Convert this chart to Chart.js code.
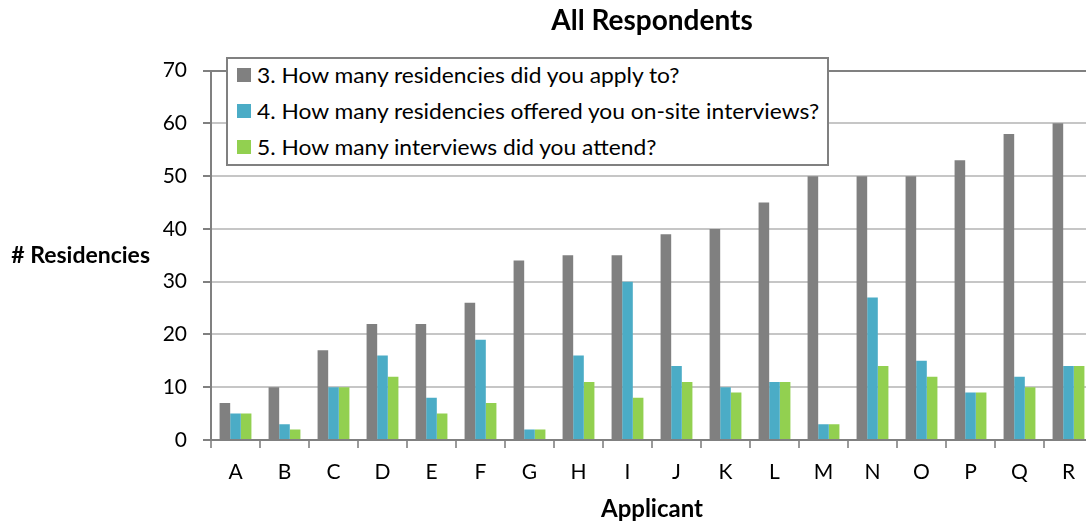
<!DOCTYPE html>
<html>
<head>
<meta charset="utf-8">
<script src="https://cdn.jsdelivr.net/npm/chart.js@4.4.0/dist/chart.umd.min.js"></script>
<style>
  html, body { margin: 0; padding: 0; background: #fff; overflow: hidden; }
  #wrap { position: relative; width: 1100px; height: 527px; }
  #legend {
    position: absolute; left: 226px; top: 57px; width: 599px; height: 105px;
    border: 2px solid #808080; background: #fff;
    font-family: Lato, sans-serif; font-size: 22px; color: #000;
  }
  #legend .row { position: absolute; left: 9px; height: 20px; white-space: nowrap; }
  #legend .box { position: absolute; left: 0; top: 3px; width: 14px; height: 14px; }
  #legend .txt { position: absolute; left: 20px; top: -4px; display: inline-block;
    transform: scaleX(1.035); transform-origin: left center; }
</style>
</head>
<body>
<div id="wrap">
  <canvas id="myChart" width="1100" height="527"></canvas>
  <div id="legend"></div>
</div>
<script>
const applicants = ["A", "B", "C", "D", "E", "F", "G", "H", "I", "J", "K", "L", "M", "N", "O", "P", "Q", "R"];
const applied = [7, 10, 17, 22, 22, 26, 34, 35, 35, 39, 40, 45, 50, 50, 50, 53, 58, 60];
const offered = [5, 3, 10, 16, 8, 19, 2, 16, 30, 14, 10, 11, 3, 27, 15, 9, 12, 14];
const attended = [5, 2, 10, 12, 5, 7, 2, 11, 8, 11, 9, 11, 3, 14, 12, 9, 10, 14];
const seriesNames = [
  "3. How many residencies did you apply to?",
  "4. How many residencies offered you on-site interviews?",
  "5. How many interviews did you attend?",
];
const seriesColors = ["#808080", "#4BACC6", "#92D050"];

const ctx = document.getElementById("myChart").getContext("2d");

const data = {
  labels: applicants,
  datasets: [applied, offered, attended].map((values, i) => ({
    label: seriesNames[i],
    data: values,
    backgroundColor: seriesColors[i],
    borderWidth: 0,
    categoryPercentage: 0.65,
    barPercentage: 1.0,
  })),
};

// y axis title is drawn flat, to the left of the tick labels
const sideTitle = {
  id: "sideTitle",
  afterDraw(chart) {
    const { ctx, chartArea } = chart;
    ctx.save();
    ctx.font = "bold 23px Lato";
    ctx.fillStyle = "#000";
    ctx.textAlign = "right";
    ctx.textBaseline = "middle";
    ctx.fillText("# Residencies", 150, (chartArea.top + chartArea.bottom) / 2);
    ctx.restore();
  },
};

const options = {
  responsive: false,
  animation: false,
  layout: {
    padding: { left: 0, right: 7, top: 0, bottom: 0 },
  },
  plugins: {
    legend: { display: false },
    tooltip: { enabled: false },
    title: {
      display: true,
      text: "All Respondents",
      fullSize: false,
      color: "#000",
      font: { family: "Lato", size: 28, weight: "bold" },
      padding: { top: 4, bottom: 33 },
    },
  },
  scales: {
    x: {
      afterFit(scale) {
        scale.height = 87;
      },
      ticks: {
        color: "#000",
        padding: 12,
        font: { family: "Lato", size: 21 },
      },
      grid: {
        drawOnChartArea: false,
        drawTicks: true,
        tickLength: 8,
        tickColor: "#9a9a9a",
        lineWidth: 2,
      },
      border: { color: "#808080", width: 2 },
      title: {
        display: true,
        text: "Applicant",
        color: "#000",
        font: { family: "Lato", size: 24, weight: "bold" },
        padding: { top: 0, bottom: 3 },
      },
    },
    y: {
      min: 0,
      max: 70,
      afterFit(scale) {
        scale.width = 211;
      },
      ticks: {
        stepSize: 10,
        color: "#000",
        padding: 16,
        font: { family: "Lato", size: 21 },
      },
      grid: {
        color: (c) => (c.tick && c.tick.value === 70 ? "#808080" : "#c6c6c6"),
        lineWidth: 2,
        tickLength: 8,
        tickColor: "#808080",
      },
      border: { color: "#808080", width: 2 },
    },
  },
};

new Chart(ctx, {
  type: "bar",
  data: data,
  options: options,
  plugins: [sideTitle],
});

// legend box sits over the top-left of the plot
const legend = document.getElementById("legend");
seriesNames.forEach((name, i) => {
  const row = document.createElement("div");
  row.className = "row";
  row.style.top = 6 + i * 36 + "px";
  row.innerHTML =
    '<span class="box" style="background:' + seriesColors[i] + '"></span>' +
    '<span class="txt">' + name + "</span>";
  legend.appendChild(row);
});
</script>
</body>
</html>
